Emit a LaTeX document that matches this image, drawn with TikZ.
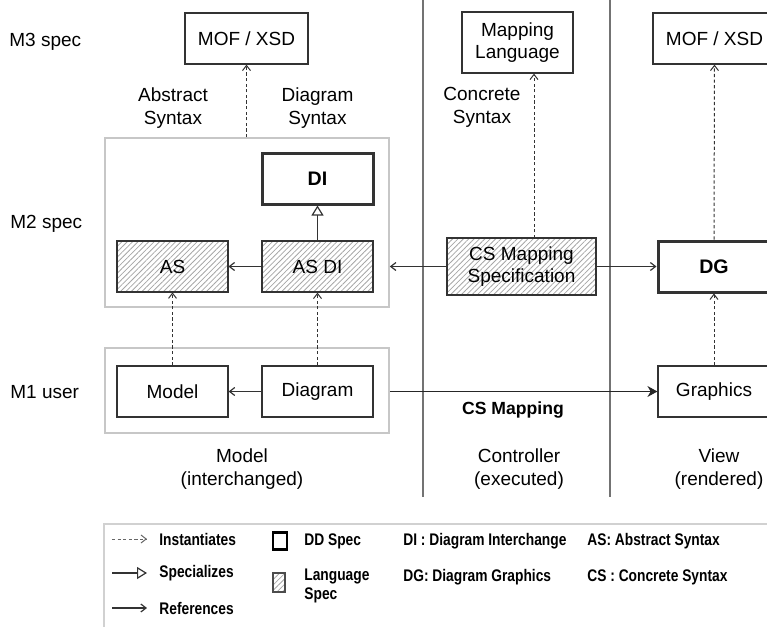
\documentclass[tikz,border=0pt]{standalone}
\usepackage{fontspec}
\setmainfont{Liberation Sans}
\newfontfamily\legendfont[FakeStretch=0.82]{Liberation Sans}
\usetikzlibrary{arrows.meta,patterns.meta}

\begin{document}
\begin{tikzpicture}[x=0.5pt, y=-0.5pt,
	font=\fontsize{9.5}{11.4}\selectfont,
	box/.style={draw=black!80, line width=0.6pt, fill=white, minimum width=55.5pt, minimum height=25.5pt, inner sep=1pt, align=center},
	ddbox/.style={box, line width=1.5pt, font=\fontsize{9.8}{11.4}\selectfont\bfseries},
	langbox/.style={box, fill=none, pattern={Lines[angle=45,distance=1.9pt,line width=0.4pt]}, pattern color=black!35},
	frame/.style={draw=black!22, line width=0.8pt, inner sep=0pt},
	sepline/.style={draw=black!55, line width=1pt},
	lbl/.style={inner sep=0pt, align=center},
	legtext/.style={inner sep=0pt, anchor=west, align=left, font=\fontsize{8.4}{9.6}\selectfont\legendfont\bfseries},
	ref/.style={draw=black!80, line width=0.6pt, -{Straight Barb[length=2.6pt,width=4pt]}},
	inst/.style={ref, line width=0.5pt, dash pattern=on 1.6pt off 1.2pt},
	spec/.style={draw=black!80, line width=0.6pt, -{Triangle[open,length=5pt,width=6pt,fill=white]}},
	map/.style={draw=black!85, line width=0.6pt, -{Stealth[length=5pt,width=5.5pt]}}]
	\useasboundingbox (0,0) rectangle (767,627);
	% swimlane separators
	\draw[sepline] (423,0) -- (423,497);
	\draw[sepline] (610,0) -- (610,497);
	% level labels
	\node[lbl, anchor=west] (m3lbl) at (9,42) {M3 spec};
	\node[lbl, anchor=west] (m2lbl) at (10,224) {M2 spec};
	\node[lbl, anchor=west] (m1lbl) at (10,392) {M1 user};
	% model column
	\node[frame, minimum width=142pt, minimum height=84.5pt] (m2box) at (247,222.5) {};
	\node[frame, minimum width=142pt, minimum height=42.5pt] (m1box) at (247,390.5) {};
	\node[box, minimum width=61.5pt] (mofA) at (246.5,38.5) {MOF / XSD};
	\node[lbl] (abslbl) at (173,108) {Abstract\\Syntax};
	\node[lbl] (diaglbl) at (317.5,108) {Diagram\\Syntax};
	\node[ddbox] (di) at (317.5,178.5) {DI};
	\node[langbox] (as) at (172.5,266.5) {AS};
	\node[langbox] (asdi) at (317.5,266.5) {AS DI};
	\node[box] (model) at (172.5,391.5) {Model};
	\node[box] (diagram) at (317.5,391.5) {Diagram};
	\draw[inst] (mofA.south |- m2box.north) -- (mofA.south);
	\draw[spec] (asdi) -- (di);
	\draw[ref] (asdi) -- (as);
	\draw[inst] (model) -- (as);
	\draw[inst] (diagram) -- (asdi);
	\draw[ref] (diagram) -- (model);
	% controller column
	\node[box, minimum width=55.5pt, minimum height=30.5pt] (maplang) at (517.5,42.5) {Mapping\\Language};
	\node[lbl] (conclbl) at (482,107) {Concrete\\Syntax};
	\node[langbox, minimum width=74.5pt, minimum height=28.5pt, font=\fontsize{9.5}{10.6}\selectfont] (csspec) at (521.5,266.5) {CS Mapping\\Specification};
	\coordinate (csx) at (534,238);
	\draw[inst] (csx) -- (csx |- maplang.south);
	\draw[ref] (csspec) -- (csspec.west -| m2box.east);
	% view column
	\node[box, minimum width=61.5pt] (mofB) at (714.5,38.5) {MOF / XSD};
	\node[ddbox, minimum width=56pt] (dg) at (714,266.5) {DG};
	\node[box, minimum width=56pt] (graphics) at (714,391.5) {Graphics};
	\draw[ref] (csspec) -- (dg);
	\draw[inst] (dg.north) -- (mofB.south);
	\draw[inst] (graphics) -- (dg);
	\draw[map] (m1box.east |- graphics) -- (graphics);
	\node[lbl, font=\fontsize{8.8}{10}\selectfont\bfseries] (csmap) at (513,410) {CS Mapping};
	% column captions
	\node[lbl] (modlbl) at (242,469) {Model\\(interchanged)};
	\node[lbl] (ctrllbl) at (519,469) {Controller\\(executed)};
	\node[lbl] (viewlbl) at (719,469) {View\\(rendered)};
	% legend
	\draw[draw=black!18, line width=1pt] (104,524) rectangle (800,660);
	\coordinate (l1a) at (112,539); \coordinate (l1b) at (147,539);
	\coordinate (l2a) at (112,573); \coordinate (l2b) at (147,573);
	\coordinate (l3a) at (112,608); \coordinate (l3b) at (147,608);
	\draw[inst, draw=black!60] (l1a) -- (l1b);
	\draw[spec] (l2a) -- (l2b);
	\draw[ref] (l3a) -- (l3b);
	\node[legtext] (linst) at (159,539) {Instantiates};
	\node[legtext] (lspec) at (159,573) {Specializes};
	\node[legtext] (lref) at (159,608) {References};
	\node[draw=black, line width=1.4pt, minimum width=7pt, minimum height=8.5pt, inner sep=0pt] (ldd) at (280,541) {};
	\node[draw=black!70, line width=0.6pt, minimum width=6pt, minimum height=9.5pt, inner sep=0pt, pattern={Lines[angle=45,distance=1.9pt,line width=0.4pt]}, pattern color=black!35] (llang) at (279,582.5) {};
	\node[legtext] (lddtxt) at (304,541) {DD Spec};
	\node[legtext] (llangtxt) at (304,586) {Language\\Spec};
	\node[legtext] (ldi) at (403,541) {DI : Diagram Interchange};
	\node[legtext] (ldg) at (403,577) {DG: Diagram Graphics};
	\node[legtext] (las) at (587,541) {AS: Abstract Syntax};
	\node[legtext] (lcs) at (587,577) {CS : Concrete Syntax};
\end{tikzpicture}
\end{document}
